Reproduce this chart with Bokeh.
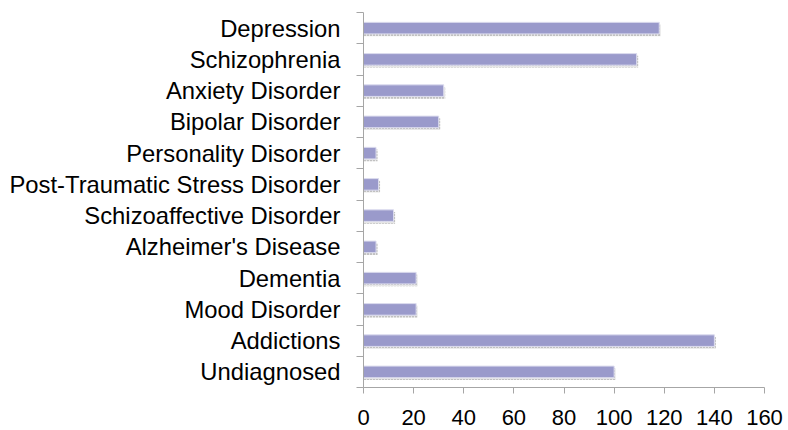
from bokeh.plotting import figure
from bokeh.models import FixedTicker, Range1d, ColumnDataSource
from bokeh.embed import file_html
from bokeh.resources import INLINE

# Diagnoses, listed top to bottom, and the number of cases for each
categories = [
    "Depression",
    "Schizophrenia",
    "Anxiety Disorder",
    "Bipolar Disorder",
    "Personality Disorder",
    "Post-Traumatic Stress Disorder",
    "Schizoaffective Disorder",
    "Alzheimer's Disease",
    "Dementia",
    "Mood Disorder",
    "Addictions",
    "Undiagnosed",
]
counts = [118, 109, 32, 30, 5, 6, 12, 5, 21, 21, 140, 100]
x_ticks = [0, 20, 40, 60, 80, 100, 120, 140, 160]

n = len(categories)
ypos = [n - 1 - i for i in range(n)]  # first category at the top

src = ColumnDataSource(dict(
    y=ypos,
    count=counts,
    y_shadow=[y - 0.07 for y in ypos],
    count_shadow=[c + 0.6 for c in counts],
))

p = figure(
    width=788, height=430,
    x_range=Range1d(0, 160), y_range=Range1d(-0.5, n - 0.5),
    output_backend="svg", toolbar_location=None,
    min_border_left=363, min_border_right=24,
    min_border_top=12, min_border_bottom=43,
)

# dotted drop shadow behind each bar
p.hbar(y="y_shadow", right="count_shadow", left=0, height=0.38, source=src,
       fill_color="#e6e6e6", line_color=None,
       hatch_pattern=".", hatch_color="#8a8a8a", hatch_scale=3)
# main bars
p.hbar(y="y", right="count", left=0, height=0.37, source=src,
       fill_color="#9a9acb", line_color="#dcdcee", line_width=1)

p.xgrid.visible = False
p.ygrid.visible = False
p.outline_line_color = None
p.background_fill_color = "white"

# value axis
xa = p.xaxis[0]
xa.ticker = FixedTicker(ticks=x_ticks)
xa.axis_line_color = "#a6a6a6"
xa.major_tick_line_color = "#a6a6a6"
xa.major_tick_in = 0
xa.major_tick_out = 6
xa.minor_tick_line_color = None
xa.major_label_text_font = "Liberation Sans"
xa.major_label_text_font_size = "22px"
xa.major_label_text_color = "black"
xa.major_label_standoff = 16

# category axis: labels at centres, ticks at boundaries
ya = p.yaxis[0]
ya.ticker = FixedTicker(ticks=ypos, minor_ticks=[k - 0.5 for k in range(n + 1)])
ya.major_label_overrides = {y: c for y, c in zip(ypos, categories)}
ya.axis_line_color = "#a6a6a6"
ya.major_tick_line_color = None
ya.major_tick_in = 0
ya.major_tick_out = 0
ya.minor_tick_line_color = "#a6a6a6"
ya.minor_tick_in = 0
ya.minor_tick_out = 7
ya.major_label_text_font = "Liberation Sans"
ya.major_label_text_font_size = "23.8px"
ya.major_label_text_color = "black"
ya.major_label_standoff = 16

open("out.html", "w").write(file_html(p, INLINE))
